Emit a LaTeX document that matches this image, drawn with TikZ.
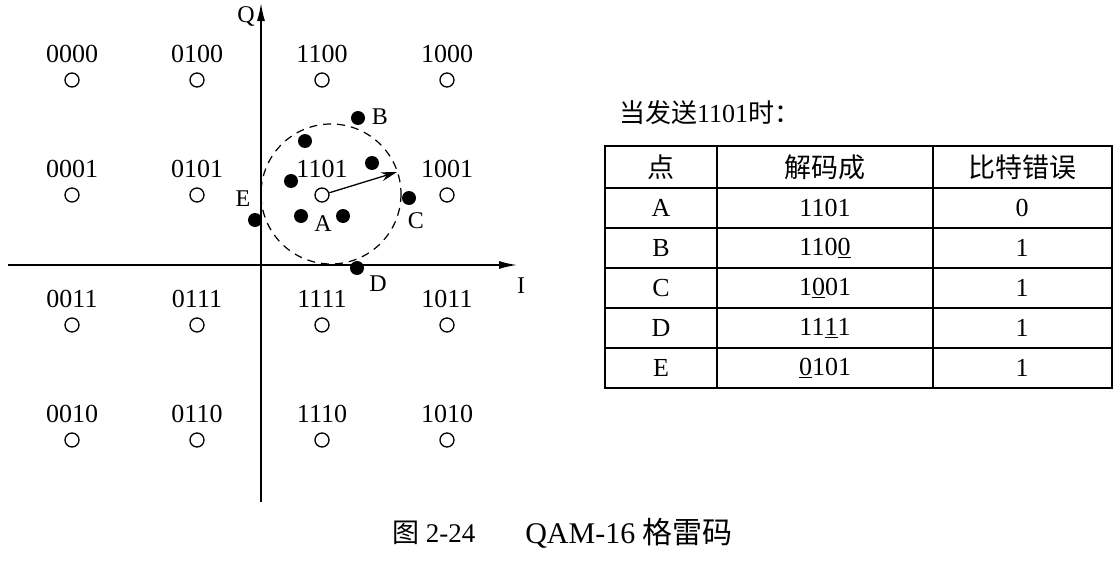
\documentclass[tikz,border=0pt]{standalone}
\usepackage{fontspec}
\setmainfont{Liberation Serif}
\newfontfamily\cjk{Noto Sans CJK SC}
\usetikzlibrary{arrows.meta}
\begin{document}
\begin{tikzpicture}[x=1pt,y=-1pt,
  lbl/.style={font=\fontsize{26}{26}\selectfont, inner sep=0pt},
  ptlbl/.style={font=\fontsize{24}{24}\selectfont, inner sep=0pt},
  opt/.style={circle, draw, line width=1.3pt, minimum size=14pt, inner sep=0pt},
  dot/.style={circle, fill, minimum size=14pt, inner sep=0pt},
  axis/.style={line width=1.5pt, -{Latex[length=18pt,width=8pt]}},
  ring/.style={line width=1.2pt, dash pattern=on 8pt off 6pt},
  vec/.style={line width=1.3pt, -{Stealth[length=16pt,width=9pt]}},
  grid/.style={line width=1.4pt},
  cell/.style={font=\fontsize{26}{26}\selectfont, inner sep=0pt},
  hcell/.style={font=\cjk\fontsize{27}{27}\selectfont, inner sep=0pt}]
\useasboundingbox (0,0) rectangle (1120,562);

% axes
\coordinate (qbot) at (261,502);
\coordinate (qtop) at (261,3);
\coordinate (ileft) at (8,265);
\coordinate (iright) at (517,265);
\draw[axis] (qbot) -- (qtop);
\draw[axis] (ileft) -- (iright);
\node[ptlbl] (qlab) at (246,16) {Q};
\node[ptlbl] (ilab) at (521,286) {I};

% constellation
\foreach \lab/\x/\y in {0000/72/80, 0100/197/80, 1100/322/80, 1000/447/80,
                        0001/72/195, 0101/197/195, 1101/322/195, 1001/447/195,
                        0011/72/325, 0111/197/325, 1111/322/325, 1011/447/325,
                        0010/72/440, 0110/197/440, 1110/322/440, 1010/447/440}{
  \node[opt] (p\lab) at (\x,\y) {};
  \node[lbl] (l\lab) at (\x,\y-26) {\lab};
}

% dashed decision circle
\coordinate (rc) at (331,194);
\draw[ring] (rc) circle (70);

% received points
\node[dot] (B) at (358,118) {};
\node[dot] (r1) at (305,141) {};
\node[dot] (r2) at (372,163) {};
\node[dot] (r3) at (291,181) {};
\node[dot] (C) at (409,198) {};
\node[dot] (A1) at (301,216) {};
\node[dot] (A2) at (343,216) {};
\node[dot] (E) at (255,220) {};
\node[dot] (D) at (357,268) {};
\node[ptlbl] (Blab) at (380,117) {B};
\node[ptlbl] (Clab) at (416,221) {C};
\node[ptlbl] (Dlab) at (378,284) {D};
\node[ptlbl] (Elab) at (243,199) {E};
\node[ptlbl] (Alab) at (323,224) {A};

% radius arrow
\coordinate (tip) at (397,172);
\draw[vec] (p1101) -- (tip);

% title
\node[anchor=west, inner sep=0pt, font=\fontsize{26}{26}\selectfont] (title) at (619,113)
  {{\cjk 当发送}1101{\cjk 时：}};

% table
\draw[grid] (605,146) rectangle (1112,388);
\foreach \yy in {188,228,268,308,348}{
  \draw[grid] (605,\yy) -- (1112,\yy);
}
\draw[grid] (717,146) -- (717,388);
\draw[grid] (933,146) -- (933,388);

\node[hcell] (h1) at (661,167) {点};
\node[hcell] (h2) at (825,167) {解码成};
\node[hcell] (h3) at (1022,167) {比特错误};

\node[cell] (tA) at (661,208) {A};
\node[cell] (tB) at (661,248) {B};
\node[cell] (tC) at (661,288) {C};
\node[cell] (tD) at (661,328) {D};
\node[cell] (tE) at (661,368) {E};

\node[cell] (dA) at (825,208) {1101};
\node[cell] (dB) at (825,248) {110\underline{0}};
\node[cell] (dC) at (825,288) {1\underline{0}01};
\node[cell] (dD) at (825,328) {11\underline{1}1};
\node[cell] (dE) at (825,368) {\underline{0}101};

\node[cell] (eA) at (1022,208) {0};
\node[cell] (eB) at (1022,248) {1};
\node[cell] (eC) at (1022,288) {1};
\node[cell] (eD) at (1022,328) {1};
\node[cell] (eE) at (1022,368) {1};

% caption
\node[anchor=west, inner sep=0pt, font=\fontsize{27}{27}\selectfont] (cap1) at (392,533)
  {{\cjk 图} 2-24};
\node[anchor=east, inner sep=0pt, font=\fontsize{30}{30}\selectfont] (cap2) at (733,533)
  {QAM-16 {\cjk 格雷码}};
\end{tikzpicture}
\end{document}
